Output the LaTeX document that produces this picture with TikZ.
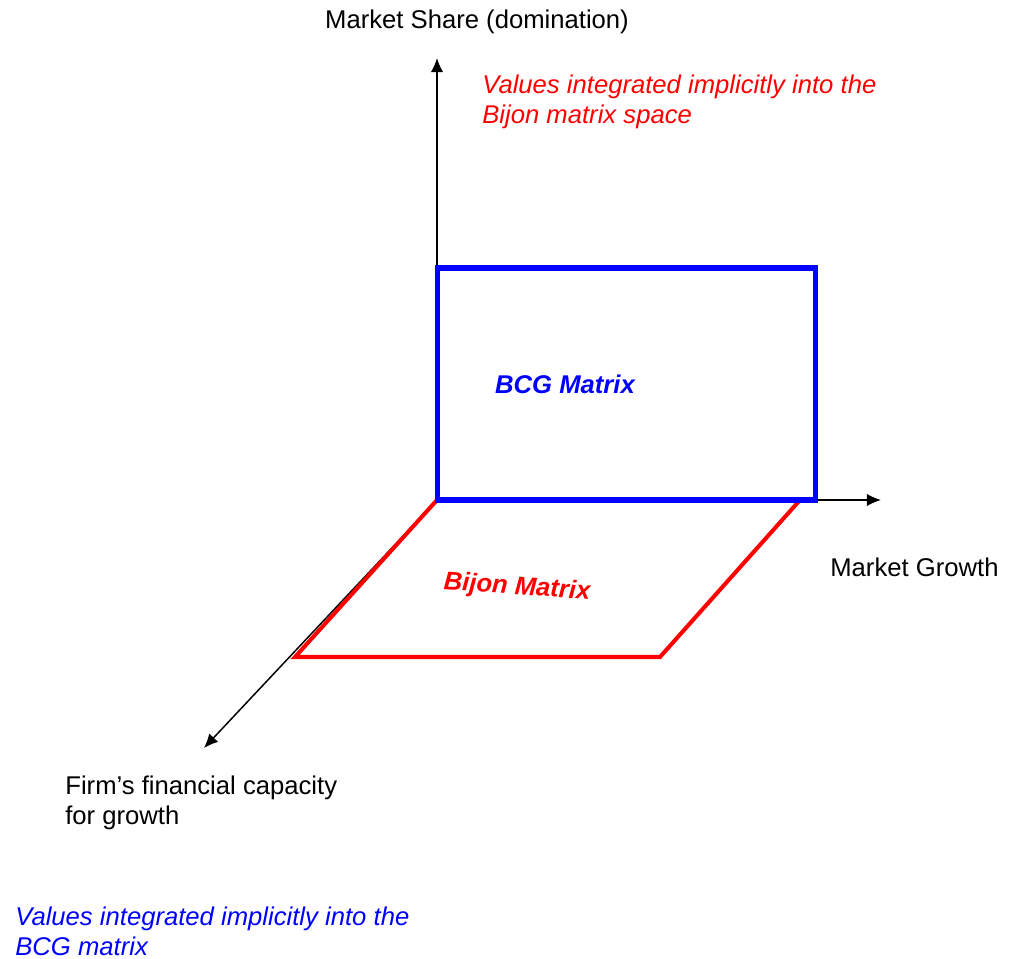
\documentclass[tikz,border=0pt]{standalone}
\usepackage{fontspec}
\setmainfont{Liberation Sans}
\usetikzlibrary{arrows.meta}
\tikzset{>={Latex[length=8pt, width=7pt]}}

\begin{document}
\begin{tikzpicture}[x=0.02cm, y=-0.02cm, font=\fontsize{14.6}{17.2}\selectfont]

\useasboundingbox (0,0) rectangle (1011,959);

\coordinate (O) at (437,500);
\coordinate (Y) at (437,58);
\coordinate (X) at (881,500);
\coordinate (Z) at (204,748);

\coordinate (P1) at (800,500);
\coordinate (P2) at (660,657);
\coordinate (P3) at (295,657);

\coordinate (B1) at (437,268);
\coordinate (B2) at (815,500);

\draw [->, line width=0.85pt] (O)--(Y);
\draw [->, line width=0.85pt] (O)--(X);
\draw [->, line width=0.85pt] (O)--(Z);

\draw [red, line width=2.3pt, line join=miter] (O)--(P1)--(P2)--(P3)--cycle;
\draw [blue, line width=2.85pt, line join=miter] (B1) rectangle (B2);

\node (share) at (477,22) {Market Share (domination)};
\node (growth) [anchor=west, inner sep=0] at (830,567) {Market Growth};
\node (firm) [anchor=west, inner sep=0, align=left] at (65,803) {Firm’s financial capacity\\for growth};
\node (bijonval) [anchor=west, inner sep=0, align=left, red] at (482,102) {\itshape Values integrated implicitly into the\\\itshape Bijon matrix space};
\node (bcgval) [anchor=west, inner sep=0, align=left, blue] at (15,931) {\itshape Values integrated implicitly into the\\\itshape BCG matrix};
\node (bcg) [blue] at (565,384) {\bfseries\itshape BCG Matrix};
\node (bijon) [red, rotate=-4] at (517,588) {\bfseries\itshape Bijon Matrix};

\end{tikzpicture}
\end{document}
